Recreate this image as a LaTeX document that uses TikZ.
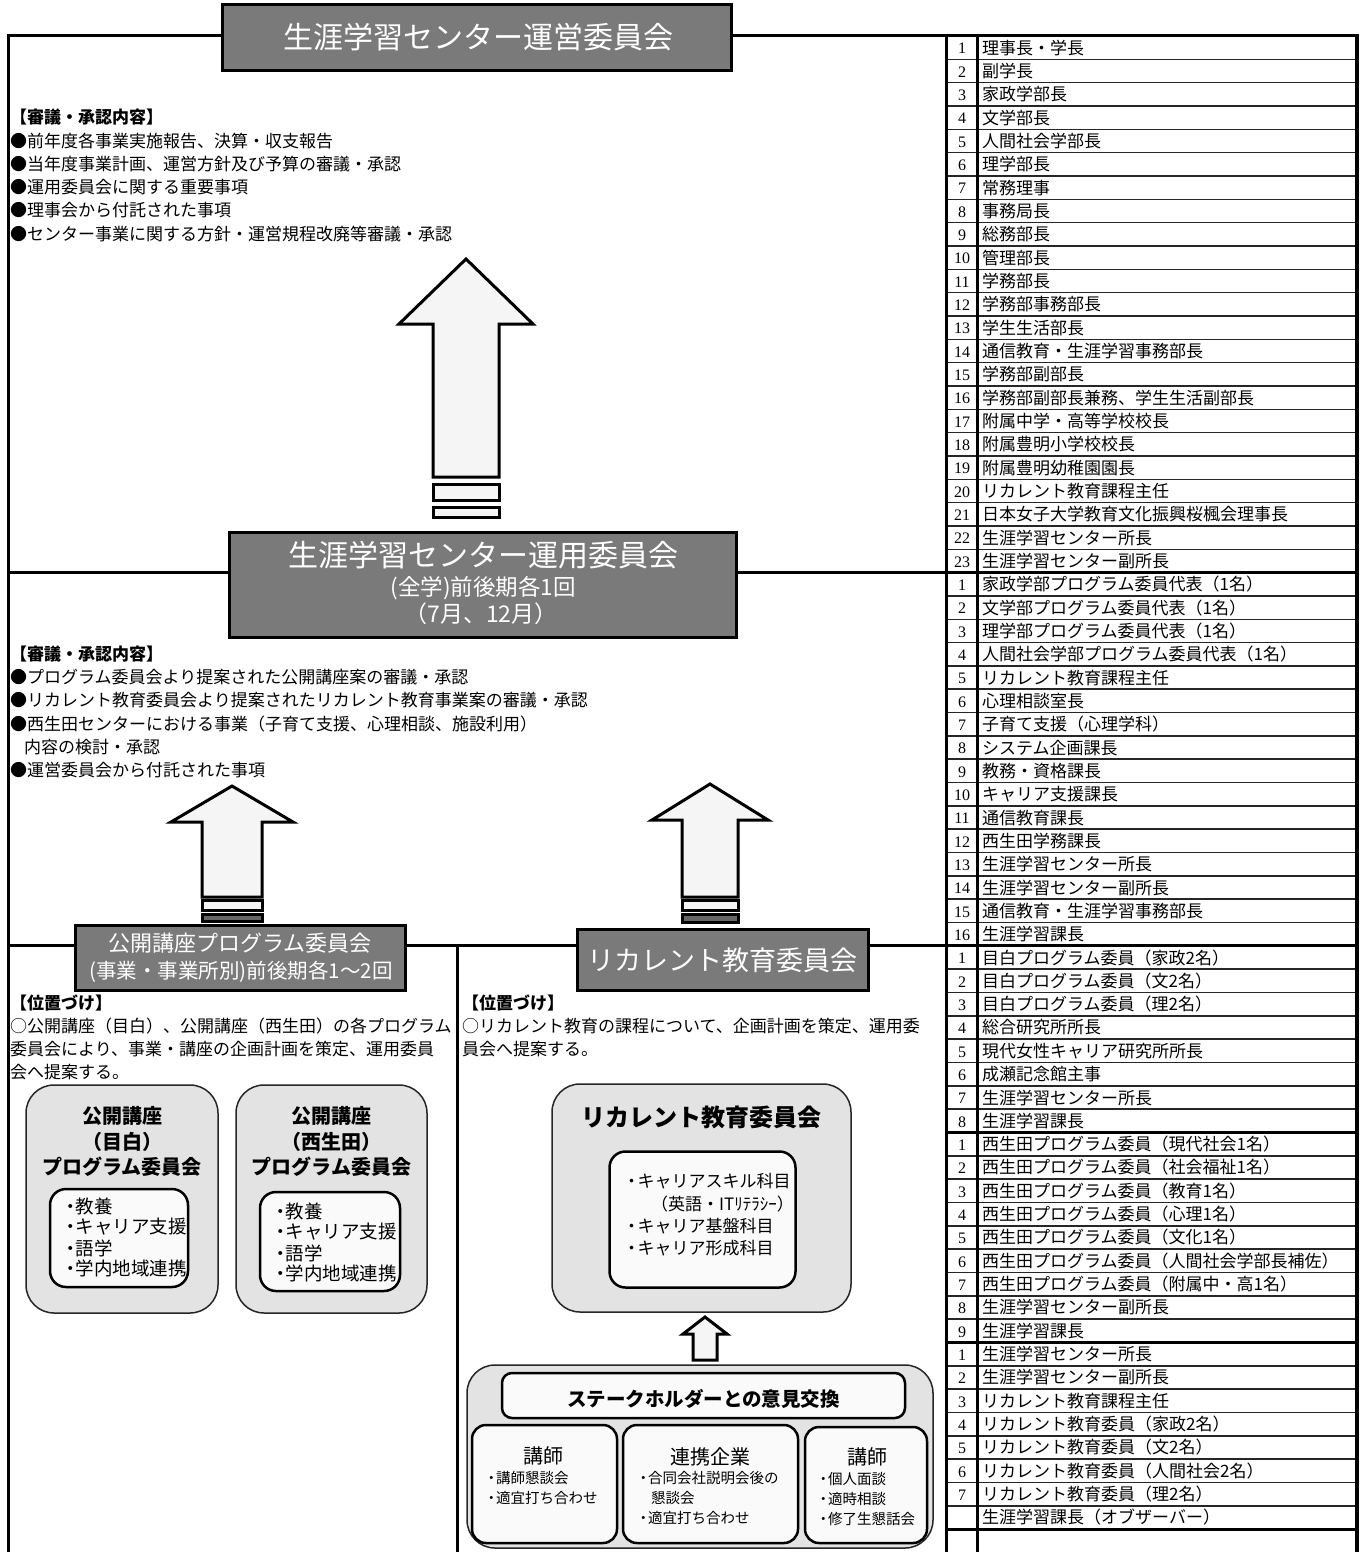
\documentclass[tikz,border=0pt]{standalone}
\usepackage{fontspec}
\setmainfont{Noto Sans CJK JP}
\newfontfamily\numfont{Liberation Serif}
\newcommand\myuparrow[6]{%
  \draw[blockarrow] (#1,#2) -- ({#1+#4},#3) -- ({#1+#5},#3) -- ({#1+#5},#6)
    -- ({#1-#5},#6) -- ({#1-#5},#3) -- ({#1-#4},#3) -- cycle;}
\newcommand\ndot[1]{・\kern-#1pt}
\begin{document}
\begin{tikzpicture}[x=1pt,y=-1pt,
  frameline/.style={line width=3pt},
  gbox/.style={draw=black,line width=3pt,fill=black!52,inner sep=0pt},
  wtext/.style={text=white,inner sep=0pt},
  body/.style={anchor=west,inner sep=0pt,font=\fontsize{17}{20}\selectfont},
  head/.style={anchor=west,inner sep=0pt,font=\fontsize{17}{20}\selectfont\bfseries},
  blockarrow/.style={draw=black,line width=3pt,fill=black!4,line join=miter},
  outerbox/.style={draw=black!85,line width=1.5pt,fill=black!11,rounded corners=28pt,inner sep=0pt},
  innerbox/.style={draw=black,line width=2.5pt,fill=black!2,rounded corners=16pt,inner sep=0pt},
  smallbox/.style={draw=black,line width=2.5pt,fill=black!2,rounded corners=14pt,inner sep=0pt},
  btitle/.style={inner sep=0pt,font=\fontsize{20}{24}\selectfont\bfseries},
  bitem/.style={anchor=west,inner sep=0pt,font=\fontsize{18.5}{21}\selectfont},
  ritem/.style={anchor=west,inner sep=0pt,font=\fontsize{17}{20}\selectfont},
  sitem/.style={anchor=west,inner sep=0pt,font=\fontsize{14.5}{17}\selectfont},
  stitle/.style={inner sep=0pt,font=\fontsize{20}{24}\selectfont},
  numcell/.style={inner sep=0pt,font=\numfont\fontsize{16}{18}\selectfont},
  txtcell/.style={anchor=west,inner sep=0pt,font=\fontsize{17}{20}\selectfont},
  rowline/.style={line width=1.5pt,draw=black!85},
  thickline/.style={line width=3pt}
]
\useasboundingbox (0,0) rectangle (1367,1552);

% ---------- frame lines ----------
\draw[frameline] (8,1552) -- (8,36) -- (222,36);
\draw[frameline] (731,36) -- (946,36);
\draw[frameline] (8,572.6) -- (229,572.6);
\draw[frameline] (736,572.6) -- (946,572.6);
\draw[frameline] (8,945.9) -- (75,945.9);
\draw[frameline] (405,945.9) -- (577,945.9);
\draw[frameline] (868,945.9) -- (946,945.9);
\draw[frameline] (457,945.9) -- (457,1552);

% ---------- table ----------
\foreach \k in {1,...,63} {
  \draw[rowline] (946,{36+\k*23.33}) -- (1357,{36+\k*23.33});
}
\foreach \k in {0,23,39,47,56,64} {
  \draw[thickline] (946,{36+\k*23.33}) -- (1357,{36+\k*23.33});
}
\draw[thickline] (946,34.5) -- (946,1552);
\draw[thickline] (977,34.5) -- (977,1552);
\draw[line width=3.5pt] (1357,34.5) -- (1357,1552);

\foreach \i/\n/\t in {
1/1/{理事長・学長},2/2/{副学長},3/3/{家政学部長},4/4/{文学部長},5/5/{人間社会学部長},
6/6/{理学部長},7/7/{常務理事},8/8/{事務局長},9/9/{総務部長},10/10/{管理部長},
11/11/{学務部長},12/12/{学務部事務部長},13/13/{学生生活部長},14/14/{通信教育・生涯学習事務部長},
15/15/{学務部副部長},16/16/{学務部副部長兼務、学生生活副部長},17/17/{附属中学・高等学校校長},
18/18/{附属豊明小学校校長},19/19/{附属豊明幼稚園園長},20/20/{リカレント教育課程主任},
21/21/{日本女子大学教育文化振興桜楓会理事長},22/22/{生涯学習センター所長},23/23/{生涯学習センター副所長},
24/1/{家政学部プログラム委員代表（1名）},25/2/{文学部プログラム委員代表（1名）},
26/3/{理学部プログラム委員代表（1名）},27/4/{人間社会学部プログラム委員代表（1名）},
28/5/{リカレント教育課程主任},29/6/{心理相談室長},30/7/{子育て支援（心理学科）},
31/8/{システム企画課長},32/9/{教務・資格課長},33/10/{キャリア支援課長},34/11/{通信教育課長},
35/12/{西生田学務課長},36/13/{生涯学習センター所長},37/14/{生涯学習センター副所長},
38/15/{通信教育・生涯学習事務部長},39/16/{生涯学習課長},
40/1/{目白プログラム委員（家政2名）},41/2/{目白プログラム委員（文2名）},
42/3/{目白プログラム委員（理2名）},43/4/{総合研究所所長},44/5/{現代女性キャリア研究所所長},
45/6/{成瀬記念館主事},46/7/{生涯学習センター所長},47/8/{生涯学習課長},
48/1/{西生田プログラム委員（現代社会1名）},49/2/{西生田プログラム委員（社会福祉1名）},
50/3/{西生田プログラム委員（教育1名）},51/4/{西生田プログラム委員（心理1名）},
52/5/{西生田プログラム委員（文化1名）},53/6/{西生田プログラム委員（人間社会学部長補佐）},
54/7/{西生田プログラム委員（附属中・高1名）},55/8/{生涯学習センター副所長},56/9/{生涯学習課長},
57/1/{生涯学習センター所長},58/2/{生涯学習センター副所長},59/3/{リカレント教育課程主任},
60/4/{リカレント教育委員（家政2名）},61/5/{リカレント教育委員（文2名）},
62/6/{リカレント教育委員（人間社会2名）},63/7/{リカレント教育委員（理2名）},
64/{}/{生涯学習課長（オブザーバー）}} {
  \node[numcell] (n\i) at (962,{36+(\i-0.5)*23.33+1}) {\n};
  \node[txtcell] (t\i) at (982,{36+(\i-0.5)*23.33}) {\t};
}

% ---------- arrows ----------
\myuparrow{466}{259}{324}{67}{33}{477}
\draw[blockarrow] (433,484) rectangle (499,500);
\draw[blockarrow] (433,507) rectangle (499,517);

\myuparrow{232}{786}{822}{61}{30}{897}
\draw[blockarrow] (202,900) rectangle (262,910);
\draw[blockarrow,fill=black!60] (202,914) rectangle (262,921);

\myuparrow{710}{784}{820}{58}{28}{897}
\draw[blockarrow] (682,900) rectangle (738,910);
\draw[blockarrow,fill=black!60] (682,914) rectangle (738,922);

% ---------- title boxes ----------
\node[gbox,minimum width=509pt,minimum height=66pt] (unei) at (476.5,38) {};
\node[wtext,font=\fontsize{30}{34}\selectfont] (uneit) at (478,37) {生涯学習センター運営委員会};

\node[gbox,minimum width=507pt,minimum height=105pt] (unyo) at (482.5,584.5) {};
\node[wtext,font=\fontsize{30}{34}\selectfont] (unyot) at (483,555) {生涯学習センター運用委員会};
\node[wtext,font=\fontsize{22.5}{25}\selectfont] (unyo2) at (483,588) {(全学)前後期各1回};
\node[wtext,font=\fontsize{23}{26}\selectfont] (unyo3) at (481,614) {（7月、12月）};

\node[gbox,minimum width=330pt,minimum height=65pt] (koukai) at (240,957.5) {};
\node[wtext,font=\fontsize{22}{25}\selectfont] (koukait) at (240,943) {公開講座プログラム委員会};
\node[wtext,font=\fontsize{20.5}{23}\selectfont] (koukai2) at (241,972) {(事業・事業所別)前後期各1〜2回};

\node[gbox,minimum width=291pt,minimum height=61pt] (recur) at (722.5,959.5) {};
\node[wtext,font=\fontsize{27}{30}\selectfont] (recurt) at (722,960) {リカレント教育委員会};

% ---------- text blocks ----------
\node[head] (h1) at (10,117) {【審議・承認内容】};
\node[body] (a1) at (10,141) {●前年度各事業実施報告、決算・収支報告};
\node[body] (a2) at (10,164) {●当年度事業計画、運営方針及び予算の審議・承認};
\node[body] (a3) at (10,187) {●運用委員会に関する重要事項};
\node[body] (a4) at (10,210) {●理事会から付託された事項};
\node[body] (a5) at (10,234) {●センター事業に関する方針・運営規程改廃等審議・承認};

\node[head] (h2) at (10,654) {【審議・承認内容】};
\node[body] (b1) at (10,677) {●プログラム委員会より提案された公開講座案の審議・承認};
\node[body] (b2) at (10,700) {●リカレント教育委員会より提案されたリカレント教育事業案の審議・承認};
\node[body] (b3) at (10,724) {●西生田センターにおける事業（子育て支援、心理相談、施設利用）};
\node[body] (b4) at (24,747) {内容の検討・承認};
\node[body] (b5) at (10,770) {●運営委員会から付託された事項};

\node[head] (h3) at (10,1003) {【位置づけ】};
\node[body] (c1) at (10,1026) {○公開講座（目白）、公開講座（西生田）の各プログラム};
\node[body] (c2) at (10,1049) {委員会により、事業・講座の企画計画を策定、運用委員};
\node[body] (c3) at (10,1072) {会へ提案する。};

\node[head] (h4) at (462,1003) {【位置づけ】};
\node[body] (d1) at (462,1026) {○リカレント教育の課程について、企画計画を策定、運用委};
\node[body] (d2) at (462,1049) {員会へ提案する。};

% ---------- rounded boxes (left) ----------
\node[outerbox,minimum width=192pt,minimum height=228pt] (mej) at (122,1199) {};
\node[btitle] (mej1) at (122,1116) {公開講座};
\node[btitle] (mej2) at (122,1142) {（目白）};
\node[btitle] (mej3) at (122,1167) {プログラム委員会};
\node[innerbox,minimum width=138pt,minimum height=98pt] (mejin) at (119,1238) {};
\node[bitem] (mi1) at (61,1206) {\ndot{4}教養};
\node[bitem] (mi2) at (61,1227) {\ndot{4}キャリア支援};
\node[bitem] (mi3) at (61,1248) {\ndot{4}語学};
\node[bitem] (mi4) at (61,1268) {\ndot{4}学内地域連携};

\node[outerbox,minimum width=191pt,minimum height=228pt] (nis) at (331.5,1199) {};
\node[btitle] (nis1) at (331.5,1116) {公開講座};
\node[btitle] (nis2) at (331.5,1142) {（西生田）};
\node[btitle] (nis3) at (331.5,1167) {プログラム委員会};
\node[innerbox,minimum width=140pt,minimum height=99pt] (nisin) at (330,1241.5) {};
\node[bitem] (ni1) at (271,1211) {\ndot{4}教養};
\node[bitem] (ni2) at (271,1232) {\ndot{4}キャリア支援};
\node[bitem] (ni3) at (271,1253) {\ndot{4}語学};
\node[bitem] (ni4) at (271,1273) {\ndot{4}学内地域連携};

% ---------- rounded boxes (right) ----------
\node[outerbox,minimum width=299pt,minimum height=228pt] (rc) at (701.5,1198) {};
\node[inner sep=0pt,font=\fontsize{24}{28}\selectfont\bfseries] (rct) at (701.5,1117) {リカレント教育委員会};
\node[innerbox,minimum width=186pt,minimum height=136pt] (rcin) at (702.5,1219.5) {};
\node[ritem] (ri1) at (623,1181) {\ndot{2.5}キャリアスキル科目};
\node[ritem] (ri2) at (651,1204) {（英語・ITﾘﾃﾗｼｰ）};
\node[ritem] (ri3) at (623,1226) {\ndot{2.5}キャリア基盤科目};
\node[ritem] (ri4) at (623,1248) {\ndot{2.5}キャリア形成科目};

\myuparrow{705}{1317}{1334}{22}{12}{1360}

\node[outerbox,minimum width=466pt,minimum height=183pt] (sh) at (700,1456.5) {};
\node[smallbox,rounded corners=10pt,minimum width=403pt,minimum height=45pt] (shh) at (703.5,1395.5) {};
\node[inner sep=0pt,font=\fontsize{19.5}{22}\selectfont\bfseries] (shht) at (703.5,1399) {ステークホルダーとの意見交換};

\node[smallbox,minimum width=145pt,minimum height=118pt] (sa) at (544.5,1484) {};
\node[stitle] (sat) at (543,1456) {講師};
\node[sitem] (sa1) at (484,1478) {\ndot{2.5}講師懇談会};
\node[sitem] (sa2) at (484,1498) {\ndot{2.5}適宜打ち合わせ};

\node[smallbox,minimum width=175pt,minimum height=118pt] (sb) at (710.5,1484) {};
\node[stitle] (sbt) at (710,1457) {連携企業};
\node[sitem] (sb1) at (636,1478) {\ndot{2.5}合同会社説明会後の};
\node[sitem] (sb2) at (651,1498) {懇談会};
\node[sitem] (sb3) at (636,1518) {\ndot{2.5}適宜打ち合わせ};

\node[smallbox,minimum width=122pt,minimum height=116pt] (sc) at (866,1485) {};
\node[stitle] (sct) at (867,1457) {講師};
\node[sitem] (sc1) at (816,1479) {\ndot{2.5}個人面談};
\node[sitem] (sc2) at (816,1499) {\ndot{2.5}適時相談};
\node[sitem] (sc3) at (816,1519) {\ndot{2.5}修了生懇話会};
\end{tikzpicture}
\end{document}
